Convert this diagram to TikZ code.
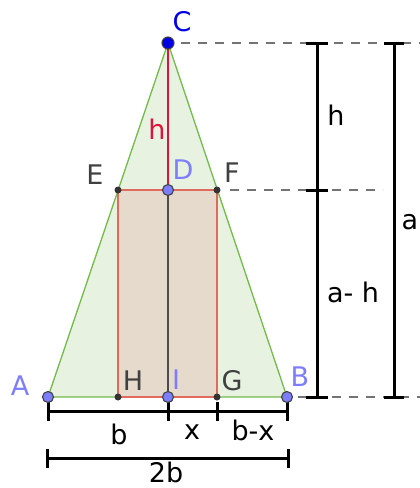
\documentclass[tikz,border=0pt]{standalone}
\usepackage{fontspec}
\setmainfont{DejaVu Sans}
\usetikzlibrary{positioning,calc}

\definecolor{trifill}{HTML}{E7F2E0}
\definecolor{triline}{HTML}{74BA4C}
\definecolor{rectfill}{HTML}{E6DACD}
\definecolor{rectline}{HTML}{E06A5E}
\definecolor{hred}{HTML}{E3103A}
\definecolor{cblue}{HTML}{0000E6}
\definecolor{pblue}{HTML}{7D7DFF}
\definecolor{dgray}{HTML}{404040}

\begin{document}
\begin{tikzpicture}[
  x=1pt, y=-1pt,
  font=\fontsize{27}{31}\selectfont,
  tri/.style={draw=triline, fill=trifill, line width=1.3pt},
  rect/.style={draw=rectline, fill=rectfill, line width=1.3pt},
  guide/.style={draw=black!55, line width=1.1pt, dash pattern=on 9pt off 8pt},
  dim/.style={line width=3pt},
  bigpt/.style={circle, draw=black!75, line width=1.1pt, fill=pblue,
                inner sep=0pt, minimum size=11pt},
  smallpt/.style={circle, fill=black!80, inner sep=0pt, minimum size=7pt},
  lbl/.style={inner sep=0pt}
]
\useasboundingbox (0,0) rectangle (420,488);

% points of the figure
\coordinate (C) at (168,43);
\coordinate (A) at (48,397);
\coordinate (B) at (287,397);
\coordinate (D) at (168,190);
\coordinate (I) at (168,397);
\coordinate (E) at (118,190);
\coordinate (F) at (217,190);
\coordinate (G) at (217,397);
\coordinate (H) at (118,397);

\draw[tri] (A) -- (B) -- (C) -- cycle;
\draw[rect] (E) -- (F) -- (G) -- (H) -- cycle;
\draw[hred, line width=2.2pt] (C) -- (D);
\draw[black!70, line width=2.4pt] (D) -- (I);

% guide lines
\coordinate (gtop) at (420,43);
\coordinate (gmid) at (383,190);
\coordinate (gbot) at (420,397);
\draw[guide] ([xshift=13pt]C) -- (gtop);
\draw[guide] ([xshift=13pt]F) -- (gmid);
\draw[guide] ([xshift=11pt]B) -- (gbot);

% vertical dimensions
\coordinate (h1) at (317,43);
\coordinate (h2) at (317,190);
\coordinate (h3) at (317,397);
\coordinate (a1) at (394,43);
\coordinate (a2) at (394,397);
\draw[dim] (h1) -- (h3);
\draw[dim] (a1) -- (a2);
\foreach \p in {h1,h2,h3}
  \draw[dim] ([xshift=-11pt]\p) -- ([xshift=11pt]\p);
\foreach \p in {a1,a2}
  \draw[dim] ([xshift=-10pt]\p) -- ([xshift=10pt]\p);

% horizontal dimensions
\coordinate (bA) at (48,411);
\coordinate (bI) at (168,411);
\coordinate (bG) at (217,411);
\coordinate (bB) at (287,411);
\coordinate (cA) at (47,458);
\coordinate (cB) at (288,458);
\draw[dim] (bA) -- (bB);
\draw[dim] (cA) -- (cB);
\foreach \p in {bA,bI,bG,bB,cA,cB}
  \draw[dim] ([yshift=9pt]\p) -- ([yshift=-10pt]\p);

% point marks
\node[bigpt, fill=cblue, minimum size=12pt] at (C) {};
\foreach \p in {A,B,D,I}
  \node[bigpt] at (\p) {};
\foreach \p in {E,F,G,H}
  \node[smallpt] at (\p) {};

% labels
\node[lbl, text=cblue] (lC) at ([shift={(14,-21)}]C) {C};
\node[lbl, text=pblue] (lD) at ([shift={(15,-20)}]D) {D};
\node[lbl, text=pblue] (lA) at ([shift={(-28,-11)}]A) {A};
\node[lbl, text=pblue] (lI) at ([shift={(8,-17)}]I) {I};
\node[lbl, text=pblue] (lB) at ([shift={(13,-20)}]B) {B};
\node[lbl, text=dgray] (lE) at ([shift={(-23,-15)}]E) {E};
\node[lbl, text=dgray] (lF) at ([shift={(15,-17)}]F) {F};
\node[lbl, text=dgray] (lH) at ([shift={(15,-16)}]H) {H};
\node[lbl, text=dgray] (lG) at ([shift={(15,-16)}]G) {G};
\node[lbl, text=hred] (lh) at (157,129) {h};
\node[lbl] (dh) at (336,115) {h};
\node[lbl] (dah) at (353,292) {a- h};
\node[lbl] (da) at (410,222) {a};
\node[lbl] (db) at (119,434) {b};
\node[lbl] (dx) at (192,432) {x};
\node[lbl] (dbx) at (253,430) {b-x};
\node[lbl] (d2b) at (166,472) {2b};
\end{tikzpicture}
\end{document}
